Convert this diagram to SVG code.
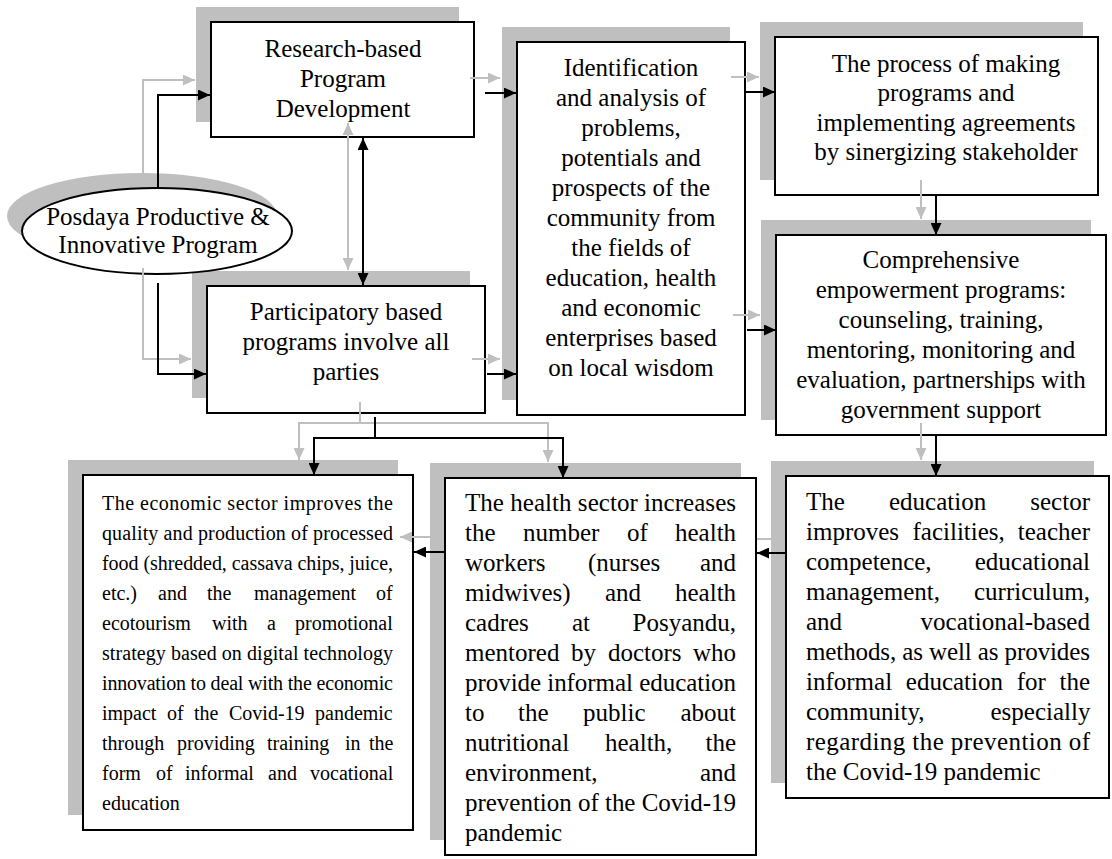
<svg xmlns="http://www.w3.org/2000/svg" width="1112" height="859" viewBox="0 0 1112 859">
<style>
.sh{fill:#bfbfbf;stroke:none}
.box{fill:#fff;stroke:#000;stroke-width:2}
.t{font-family:"Liberation Serif","Times New Roman",serif;font-size:25px;fill:#000}
.c{text-anchor:middle}
.s{font-size:20px}
.bl{fill:none;stroke:#000;stroke-width:2}
.gr{fill:none;stroke:#bfbfbf;stroke-width:2}
</style>
<defs>
<marker id="hb" markerUnits="userSpaceOnUse" markerWidth="12" markerHeight="11" refX="12" refY="5.5" orient="auto-start-reverse"><path d="M0,0 L12,5.5 L0,11 z" fill="#000"/></marker>
<marker id="hg" markerUnits="userSpaceOnUse" markerWidth="12" markerHeight="11" refX="12" refY="5.5" orient="auto-start-reverse"><path d="M0,0 L12,5.5 L0,11 z" fill="#bfbfbf"/></marker>
</defs>
<rect width="1112" height="859" fill="#fff"/>
<g id="shadows">
<ellipse class="sh" cx="142" cy="216" rx="135" ry="43"/>
<rect class="sh" x="196" y="7" width="263" height="115"/>
<rect class="sh" x="192" y="271" width="278" height="127"/>
<rect class="sh" x="502" y="27" width="228" height="373"/>
<rect class="sh" x="760" y="22" width="323" height="158"/>
<rect class="sh" x="761" y="220" width="330" height="200"/>
<rect class="sh" x="68" y="460" width="330" height="355"/>
<rect class="sh" x="430" y="463" width="311" height="377"/>
<rect class="sh" x="771" y="461" width="323" height="322"/>
</g>
<g id="connectors-back">
<path class="gr" d="M771,539 H742" marker-end="url(#hg)"/>
</g>
<g id="n-posdaya">
<ellipse cx="157" cy="231" rx="135" ry="43" fill="#fff" stroke="#000" stroke-width="2"/>
<text class="t c" x="158" y="225">Posdaya Productive &amp;</text>
<text class="t c" x="158" y="253">Innovative Program</text>
</g>
<g id="n-research">
<rect class="box" x="211" y="22" width="263" height="115"/>
<text class="t c" x="343" y="57">Research-based</text>
<text class="t c" x="343" y="87">Program</text>
<text class="t c" x="343" y="117">Development</text>
</g>
<g id="n-participatory">
<rect class="box" x="207" y="286" width="278" height="127"/>
<text class="t c" x="346" y="320">Participatory based</text>
<text class="t c" x="346" y="350">programs involve all</text>
<text class="t c" x="346" y="380">parties</text>
</g>
<g id="n-identification">
<rect class="box" x="517" y="42" width="228" height="373"/>
<text class="t c" x="631" y="76">Identification</text>
<text class="t c" x="631" y="106">and analysis of</text>
<text class="t c" x="631" y="136">problems,</text>
<text class="t c" x="631" y="166">potentials and</text>
<text class="t c" x="631" y="196">prospects of the</text>
<text class="t c" x="631" y="226">community from</text>
<text class="t c" x="631" y="256">the fields of</text>
<text class="t c" x="631" y="286">education, health</text>
<text class="t c" x="631" y="316">and economic</text>
<text class="t c" x="631" y="346">enterprises based</text>
<text class="t c" x="631" y="376">on local wisdom</text>
</g>
<g id="n-process">
<rect class="box" x="775" y="37" width="323" height="158"/>
<text class="t c" x="946" y="72">The process of making</text>
<text class="t c" x="946" y="101">programs and</text>
<text class="t c" x="946" y="131">implementing agreements</text>
<text class="t c" x="946" y="160">by sinergizing stakeholder</text>
</g>
<g id="n-comprehensive">
<rect class="box" x="776" y="235" width="330" height="200"/>
<text class="t c" x="941" y="268">Comprehensive</text>
<text class="t c" x="941" y="298">empowerment programs:</text>
<text class="t c" x="941" y="328">counseling, training,</text>
<text class="t c" x="941" y="358">mentoring, monitoring and</text>
<text class="t c" x="941" y="388">evaluation, partnerships with</text>
<text class="t c" x="941" y="418">government support</text>
</g>
<g id="n-economic">
<rect class="box" x="83" y="475" width="330" height="355"/>
<text class="t s" x="102" y="510" textLength="291" lengthAdjust="spacing">The economic sector improves the</text>
<text class="t s" x="102" y="540" textLength="291" lengthAdjust="spacing">quality and production of processed</text>
<text class="t s" x="102" y="570" textLength="291" lengthAdjust="spacing">food (shredded, cassava chips, juice,</text>
<text class="t s" y="600"><tspan x="102">etc.)</tspan><tspan x="158">and</tspan><tspan x="207">the</tspan><tspan x="254">management</tspan><tspan x="376">of</tspan></text>
<text class="t s" y="630"><tspan x="102">ecotourism</tspan><tspan x="212">with</tspan><tspan x="267">a</tspan><tspan x="295">promotional</tspan></text>
<text class="t s" x="102" y="660" textLength="291" lengthAdjust="spacing">strategy based on digital technology</text>
<text class="t s" x="102" y="690" textLength="291" lengthAdjust="spacing">innovation to deal with the economic</text>
<text class="t s" y="720"><tspan x="102">impact</tspan><tspan x="167">of</tspan><tspan x="194">the</tspan><tspan x="229">Covid-19</tspan><tspan x="315">pandemic</tspan></text>
<text class="t s" y="750"><tspan x="102">through</tspan><tspan x="177">providing</tspan><tspan x="267">training</tspan><tspan x="345">in</tspan><tspan x="369">the</tspan></text>
<text class="t s" y="780"><tspan x="102">form</tspan><tspan x="156">of</tspan><tspan x="185">informal</tspan><tspan x="268">and</tspan><tspan x="310">vocational</tspan></text>
<text class="t s" x="102" y="810">education</text>
</g>
<g id="n-health">
<rect class="box" x="445" y="478" width="311" height="377"/>
<text class="t" x="465" y="511" textLength="271" lengthAdjust="spacing">The health sector increases</text>
<text class="t" y="541"><tspan x="465">the</tspan><tspan x="523">number</tspan><tspan x="627">of</tspan><tspan x="675">health</tspan></text>
<text class="t" y="571"><tspan x="465">workers</tspan><tspan x="588">(nurses</tspan><tspan x="700">and</tspan></text>
<text class="t" y="601"><tspan x="465">midwives)</tspan><tspan x="605">and</tspan><tspan x="675">health</tspan></text>
<text class="t" y="631"><tspan x="465">cadres</tspan><tspan x="572">at</tspan><tspan x="632.5">Posyandu,</tspan></text>
<text class="t" y="661"><tspan x="465">mentored</tspan><tspan x="571">by</tspan><tspan x="608">doctors</tspan><tspan x="693">who</tspan></text>
<text class="t" x="465" y="691" textLength="271" lengthAdjust="spacing">provide informal education</text>
<text class="t" y="721"><tspan x="465">to</tspan><tspan x="518">the</tspan><tspan x="583">public</tspan><tspan x="680.5">about</tspan></text>
<text class="t" y="751"><tspan x="465">nutritional</tspan><tspan x="605">health,</tspan><tspan x="705.5">the</tspan></text>
<text class="t" y="781"><tspan x="465">environment,</tspan><tspan x="700">and</tspan></text>
<text class="t" x="465" y="811" textLength="271" lengthAdjust="spacing">prevention of the Covid-19</text>
<text class="t" x="465" y="841">pandemic</text>
</g>
<g id="n-education">
<rect class="box" x="786" y="476" width="323" height="322"/>
<text class="t" y="510"><tspan x="806">The</tspan><tspan x="889">education</tspan><tspan x="1030.3">sector</tspan></text>
<text class="t" y="540"><tspan x="806">improves</tspan><tspan x="912.5">facilities,</tspan><tspan x="1017.8">teacher</tspan></text>
<text class="t" y="570"><tspan x="806">competence,</tspan><tspan x="974.75">educational</tspan></text>
<text class="t" y="600"><tspan x="806">management,</tspan><tspan x="974">curriculum,</tspan></text>
<text class="t" y="630"><tspan x="806">and</tspan><tspan x="920.6">vocational-based</tspan></text>
<text class="t" x="806" y="660" textLength="284" lengthAdjust="spacing">methods, as well as provides</text>
<text class="t" y="690"><tspan x="806">informal</tspan><tspan x="905.8">education</tspan><tspan x="1016.7">for</tspan><tspan x="1059.5">the</tspan></text>
<text class="t" y="720"><tspan x="806">community,</tspan><tspan x="990.5">especially</tspan></text>
<text class="t" x="806" y="750" textLength="284" lengthAdjust="spacing">regarding the prevention of</text>
<text class="t" x="806" y="780">the Covid-19 pandemic</text>
</g>
<g id="connectors">
<path class="gr" d="M143,175 V80 H195" marker-end="url(#hg)"/>
<path class="gr" d="M143,268 V359 H191" marker-end="url(#hg)"/>
<path class="gr" d="M348,123 V270" marker-start="url(#hg)" marker-end="url(#hg)"/>
<path class="gr" d="M470,78 H500" marker-end="url(#hg)"/>
<path class="gr" d="M472,359 H500" marker-end="url(#hg)"/>
<path class="gr" d="M731,77 H759" marker-end="url(#hg)"/>
<path class="gr" d="M733,315 H760" marker-end="url(#hg)"/>
<path class="gr" d="M921,180 V219" marker-end="url(#hg)"/>
<path class="gr" d="M921,423 V460" marker-end="url(#hg)"/>
<path class="gr" d="M430,537 H400" marker-end="url(#hg)"/>
<path class="gr" d="M360,402 V423 H299 V460" marker-end="url(#hg)"/>
<path class="gr" d="M360,423 H548 V462" marker-end="url(#hg)"/>
<path class="bl" d="M158,188 V95 H210" marker-end="url(#hb)"/>
<path class="bl" d="M158,283 V374 H206" marker-end="url(#hb)"/>
<path class="bl" d="M363,138 V285" marker-start="url(#hb)" marker-end="url(#hb)"/>
<path class="bl" d="M485,93 H516" marker-end="url(#hb)"/>
<path class="bl" d="M487,374 H516" marker-end="url(#hb)"/>
<path class="bl" d="M746,92 H775" marker-end="url(#hb)"/>
<path class="bl" d="M747,330 H776" marker-end="url(#hb)"/>
<path class="bl" d="M936,195 V235" marker-end="url(#hb)"/>
<path class="bl" d="M936,436 V476" marker-end="url(#hb)"/>
<path class="bl" d="M786,553 H757" marker-end="url(#hb)"/>
<path class="bl" d="M445,552 H414" marker-end="url(#hb)"/>
<path class="bl" d="M375,417 V438 H314 V475" marker-end="url(#hb)"/>
<path class="bl" d="M375,438 H563 V478" marker-end="url(#hb)"/>
</g>
</svg>
